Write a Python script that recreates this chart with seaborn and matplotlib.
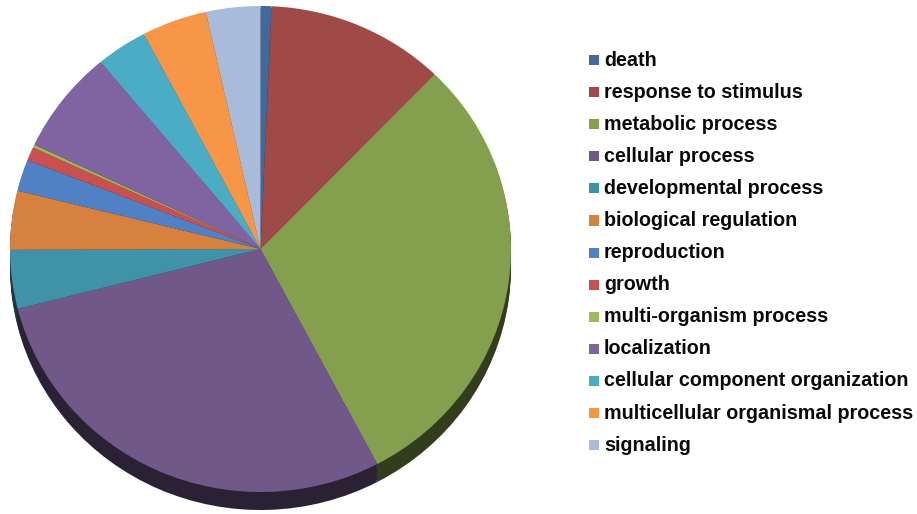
import numpy as np
import matplotlib
matplotlib.use("Agg")
import matplotlib.pyplot as plt
from matplotlib.patches import Rectangle
import seaborn as sns

categories = [
    "death",
    "response to stimulus",
    "metabolic process",
    "cellular process",
    "developmental process",
    "biological regulation",
    "reproduction",
    "growth",
    "multi-organism process",
    "localization",
    "cellular component organization",
    "multicellular organismal process",
    "signaling",
]
counts = [7, 115, 300, 287, 39, 39, 21, 9, 2, 69, 33, 42, 35]
hex_colors = [
    "#40699C", "#A04A47", "#84A04E", "#705888", "#3F92A8", "#D6813D",
    "#4F81C4", "#C9504E", "#9BBB59", "#8064A2", "#4BACC6", "#F79646",
    "#A9BBDB",
]

sns.set_theme(style="white")
plt.rcParams["font.family"] = ["Liberation Sans", "DejaVu Sans"]

palette = sns.color_palette(hex_colors)
side_palette = [tuple(np.array(c) * 0.38) for c in palette]

W, H, DPI = 917, 514, 100
fig = plt.figure(figsize=(W / DPI, H / DPI), dpi=DPI)
fig.patch.set_facecolor("white")

# Pie area in pixels: face spans x 10..511, y 6..492, base shadow to 510
left_px, right_px, top_px, bot_px = 10, 511, 6, 510
ry_px = 243.0
ax = fig.add_axes([left_px / W, 1 - bot_px / H,
                   (right_px - left_px) / W, (bot_px - top_px) / H])

depth = 18.0 / ry_px

# Side wall: darker copies of the slices stacked below the top face
for k in np.linspace(depth, 0, 10)[:-1]:
    ax.pie(counts, colors=side_palette, startangle=90, counterclock=False,
           center=(0, -k), radius=1.0,
           wedgeprops=dict(linewidth=0, antialiased=True))

# Top face
wedges, _ = ax.pie(counts, colors=palette, startangle=90, counterclock=False,
                   center=(0, 0), radius=1.0,
                   wedgeprops=dict(linewidth=0, antialiased=True))

ax.set_aspect("auto")
ax.set_xlim(-1, 1)
ax.set_ylim(1 - (bot_px - top_px) / ry_px, 1)
ax.axis("off")

# Legend with square colour keys
row0, step = 60, 32.1
for i, (name, col) in enumerate(zip(categories, palette)):
    yc = row0 + i * step
    fig.patches.append(Rectangle((589 / W, 1 - (yc + 5) / H), 10 / W, 10 / H,
                                 transform=fig.transFigure, facecolor=col,
                                 edgecolor="none"))
    fig.text(604 / W, 1 - yc / H, name, fontsize=14.2, fontweight="bold",
             color="#0a0a0a", va="center", ha="left")

fig.savefig("out.png", dpi=DPI, facecolor="white")
